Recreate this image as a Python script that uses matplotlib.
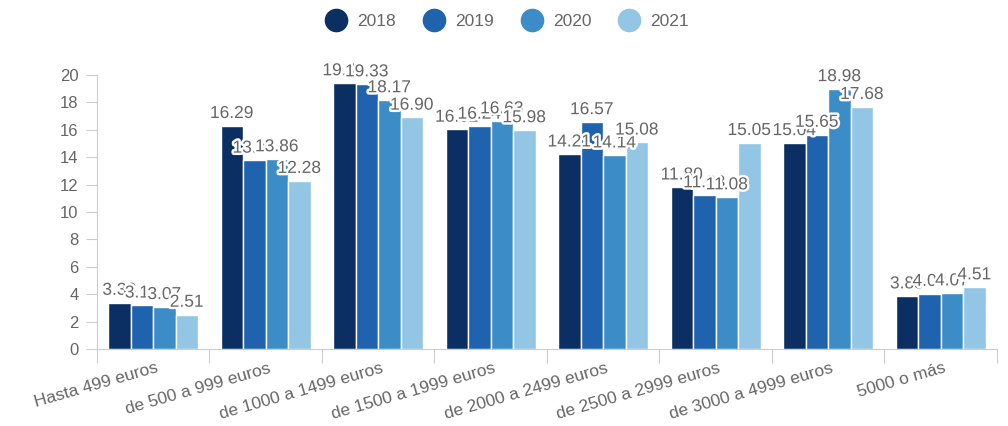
import matplotlib
matplotlib.use("Agg")
import matplotlib.pyplot as plt
import matplotlib.patheffects as pe
from matplotlib.lines import Line2D
import numpy as np

categories = ["Hasta 499 euros", "de 500 a 999 euros", "de 1000 a 1499 euros",
              "de 1500 a 1999 euros", "de 2000 a 2499 euros", "de 2500 a 2999 euros",
              "de 3000 a 4999 euros", "5000 o más"]
years = ["2018", "2019", "2020", "2021"]
v2018 = [3.38, 16.29, 19.41, 16.02, 14.21, 11.80, 15.04, 3.85]
v2019 = [3.18, 13.76, 19.33, 16.24, 16.57, 11.23, 15.65, 4.03]
v2020 = [3.07, 13.86, 18.17, 16.63, 14.14, 11.08, 18.98, 4.07]
v2021 = [2.51, 12.28, 16.90, 15.98, 15.08, 15.05, 17.68, 4.51]
series = [v2018, v2019, v2020, v2021]
colors = ["#0b2f62", "#1f62ad", "#3c8dc7", "#93c5e4"]
yticks = list(range(0, 21, 2))

plt.rcParams["font.family"] = ["Liberation Sans", "DejaVu Sans"]
text_col = "#666666"

fig = plt.figure(figsize=(10.08, 4.26), dpi=100)
ax = fig.add_axes([0.096, 0.181, 0.893, 0.643])

n = len(categories)
x = np.arange(n)
bw = 0.2
for i, (vals, c) in enumerate(zip(series, colors)):
    pos = x - 0.3 + i * bw
    ax.bar(pos, vals, width=bw, color=c, edgecolor="white", linewidth=1.0, zorder=2)
    for px, v in zip(pos, vals):
        ax.text(px, v + 0.35, f"{v:.2f}", ha="center", va="bottom", fontsize=12.5,
                color=text_col, zorder=3,
                path_effects=[pe.withStroke(linewidth=3.5, foreground="white")])

ax.set_xlim(-0.5, n - 0.5)
ax.set_ylim(0, 20)
ax.set_yticks(yticks)
ax.set_yticklabels([str(t) for t in yticks], fontsize=12, color=text_col)
ax.tick_params(axis="y", length=8, color="#cccccc", pad=5)

# category ticks sit on the band boundaries; labels at band centres
ax.set_xticks(np.arange(-0.5, n, 1.0))
ax.set_xticklabels([])
ax.tick_params(axis="x", length=10, color="#cccccc")
for xi, lab in zip(x, categories):
    ax.text(xi + 0.02, -0.85, lab, rotation=16, ha="right", va="top",
            rotation_mode="anchor", fontsize=12.5, color=text_col,
            transform=ax.transData, clip_on=False)

for s in ["top", "right"]:
    ax.spines[s].set_visible(False)
ax.spines["left"].set_color("#cccccc")
ax.spines["bottom"].set_color("#cccccc")

handles = [Line2D([0], [0], marker="o", linestyle="", markersize=16,
                  markerfacecolor=c, markeredgecolor=c) for c in colors]
fig.legend(handles, years, loc="upper center", bbox_to_anchor=(0.5, 0.995), ncol=4,
           frameon=False, fontsize=12.5, labelcolor=text_col, handletextpad=0.2,
           columnspacing=1.2, borderaxespad=0.3)

fig.savefig("out.png", dpi=100)
